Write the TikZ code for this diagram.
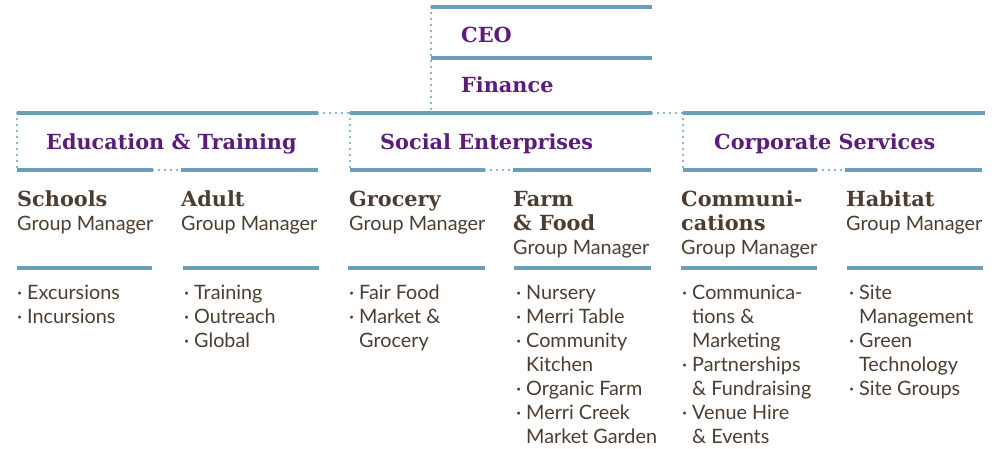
\documentclass[tikz,border=0pt]{standalone}
\usepackage{fontspec}
\setmainfont{Lato}
\newfontfamily\slab{DejaVu Serif}
\usetikzlibrary{positioning}
\definecolor{rulecol}{HTML}{6A9FBA}
\definecolor{plum}{HTML}{5B1C7A}
\definecolor{bark}{HTML}{4C3D31}
\newcommand{\bul}{\makebox[10pt][l]{·}}
\newcommand{\cnt}{\hspace*{10pt}}
\newcommand{\lines}[1]{\begin{tabular}[t]{@{}l@{}}#1\end{tabular}}
\tikzset{
  rl/.style={line width=3.2pt,draw=rulecol},
  dl/.style={line width=2.4pt,draw=rulecol,line cap=round,dash pattern=on 0pt off 6pt},
  headtxt/.style={anchor=base west,inner sep=0pt,text=plum,font=\slab\bfseries\fontsize{20.8}{24}\selectfont},
  subtxt/.style={anchor=base west,inner sep=0pt,text=bark,font=\slab\bfseries\fontsize{20.8}{24}\selectfont},
  roletxt/.style={anchor=base west,inner sep=0pt,text=bark,font=\fontsize{19.8}{24}\selectfont},
  items/.style={anchor=base west,inner sep=0pt,text=bark,font=\fontsize{19.8}{24}\selectfont},
}
\begin{document}
\begin{tikzpicture}[x=1pt,y=-1pt]
  \useasboundingbox (0,0) rectangle (1002,448);
  % ---- top: CEO and Finance ----
  \draw[rl] (431,7)--(652,7);
  \draw[rl] (431,58)--(652,58);
  \draw[dl] (431,7)--(431,113);
  \node[headtxt] (ceo) at (461,42) {CEO};
  \node[headtxt] (fin) at (461,92) {Finance};
  % ---- group row ----
  \draw[rl] (17,113)--(318,113);
  \draw[dl] (318,113)--(350,113);
  \draw[rl] (350,113)--(652,113);
  \draw[dl] (652,113)--(683,113);
  \draw[rl] (683,113)--(985,113);
  % education & training
  \draw[dl] (17,113)--(17,170);
  \draw[rl] (17,170)--(153,170);
  \draw[dl] (153,170)--(181,170);
  \draw[rl] (181,170)--(318,170);
  \node[headtxt] (edu) at (46,149) {Education \& Training};
  % social enterprises
  \draw[dl] (350,113)--(350,170);
  \draw[rl] (350,170)--(485,170);
  \draw[dl] (485,170)--(513,170);
  \draw[rl] (513,170)--(651,170);
  \node[headtxt] (soc) at (380,149) {Social Enterprises};
  % corporate services
  \draw[dl] (683,113)--(683,170);
  \draw[rl] (683,170)--(817,170);
  \draw[dl] (817,170)--(845,170);
  \draw[rl] (845,170)--(982,170);
  \node[headtxt] (corp) at (714,149) {Corporate Services};
  % ---- managers ----
  \node[subtxt] (schools) at (17,206) {Schools};
  \node[roletxt] (schoolsgm) at (17,230) {Group Manager};
  \node[subtxt] (adult) at (181,206) {Adult};
  \node[roletxt] (adultgm) at (181,230) {Group Manager};
  \node[subtxt] (grocery) at (349,206) {Grocery};
  \node[roletxt] (grocerygm) at (349,230) {Group Manager};
  \node[subtxt] (farm) at (513,206) {\lines{Farm\\\& Food}};
  \node[roletxt] (farmgm) at (513,254) {Group Manager};
  \node[subtxt] (comms) at (681,206) {\lines{Communi-\\cations}};
  \node[roletxt] (commsgm) at (681,254) {Group Manager};
  \node[subtxt] (habitat) at (846,206) {Habitat};
  \node[roletxt] (habitatgm) at (846,230) {Group Manager};
  % ---- rules under managers ----
  \draw[rl] (17,268)--(152,268);
  \draw[rl] (183,268)--(319,268);
  \draw[rl] (348,268)--(485,268);
  \draw[rl] (514,268)--(651,268);
  \draw[rl] (681,268)--(817,268);
  \draw[rl] (847,268)--(983,268);
  % ---- teams ----
  \node[items] (schoolsl) at (17,299) {\lines{\bul Excursions\\\bul Incursions}};
  \node[items] (adultl) at (184,299) {\lines{\bul Training\\\bul Outreach\\\bul Global}};
  \node[items] (groceryl) at (349,299) {\lines{\bul Fair Food\\\bul Market \&\\\cnt Grocery}};
  \node[items] (farml) at (516,299) {\lines{\bul Nursery\\\bul Merri Table\\\bul Community\\\cnt Kitchen\\\bul Organic Farm\\\bul Merri Creek\\\cnt Market Garden}};
  \node[items] (commsl) at (682,299) {\lines{\bul Communica-\\\cnt tions \&\\\cnt Marketing\\\bul Partnerships\\\cnt \& Fundraising\\\bul Venue Hire\\\cnt \& Events}};
  \node[items] (habitatl) at (849,299) {\lines{\bul Site\\\cnt Management\\\bul Green\\\cnt Technology\\\bul Site Groups}};
\end{tikzpicture}
\end{document}
